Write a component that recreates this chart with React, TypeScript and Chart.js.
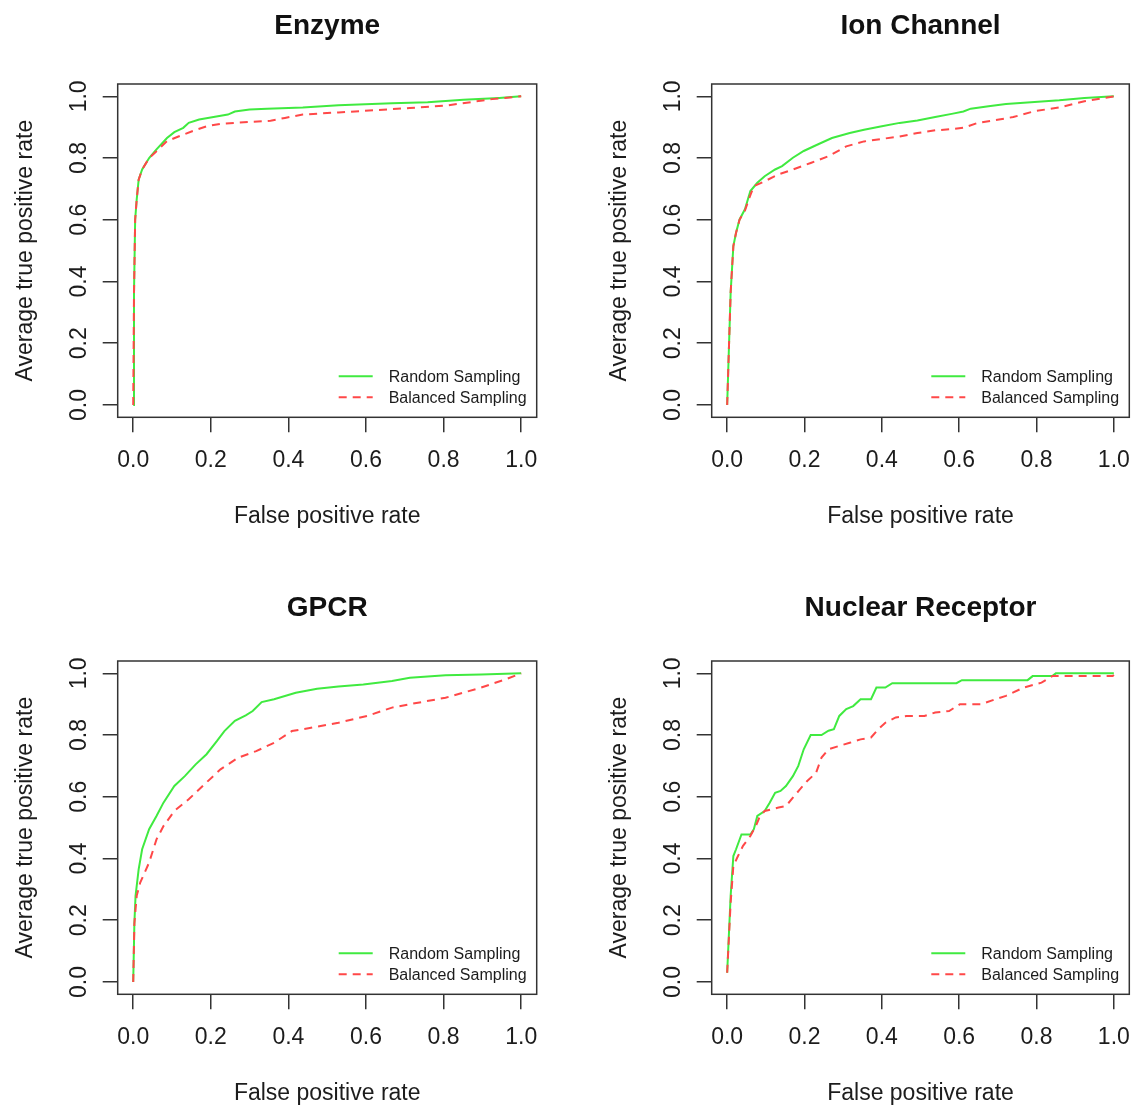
import React, { useEffect, useRef } from "react";
import { Chart, registerables } from "chart.js";

Chart.register(...registerables);

// ---------- Text ----------
const panelTitles = ["Enzyme", "Ion Channel", "GPCR", "Nuclear Receptor"];
const seriesNames = ["Random Sampling", "Balanced Sampling"];
const xAxisTitle = "False positive rate";
const yAxisTitle = "Average true positive rate";
const tickValues = [0, 0.2, 0.4, 0.6, 0.8, 1.0];

// ---------- Data ----------
const enzymeRandomFpr = [0, 0.002, 0.005, 0.009, 0.014, 0.023, 0.041, 0.06, 0.087, 0.106, 0.129, 0.143, 0.17, 0.207, 0.244, 0.262, 0.3, 0.345, 0.437, 0.529, 0.667, 0.759, 0.851, 0.943, 1];
const enzymeRandomTpr = [0, 0.36, 0.6, 0.666, 0.73, 0.763, 0.8, 0.828, 0.865, 0.884, 0.898, 0.914, 0.925, 0.933, 0.941, 0.951, 0.957, 0.96, 0.964, 0.971, 0.978, 0.981, 0.989, 0.995, 1];
const enzymeBalancedFpr = [0, 0.002, 0.005, 0.009, 0.014, 0.023, 0.041, 0.06, 0.087, 0.115, 0.152, 0.189, 0.225, 0.3, 0.354, 0.391, 0.437, 0.529, 0.621, 0.713, 0.805, 0.87, 0.925, 1];
const enzymeBalancedTpr = [0, 0.36, 0.6, 0.666, 0.73, 0.763, 0.8, 0.822, 0.855, 0.869, 0.887, 0.903, 0.911, 0.917, 0.921, 0.93, 0.941, 0.948, 0.955, 0.962, 0.97, 0.981, 0.991, 1];

const ionRandomFpr = [0, 0.005, 0.009, 0.016, 0.023, 0.032, 0.046, 0.06, 0.078, 0.097, 0.124, 0.142, 0.17, 0.198, 0.234, 0.271, 0.317, 0.354, 0.4, 0.446, 0.492, 0.538, 0.584, 0.611, 0.63, 0.676, 0.721, 0.795, 0.859, 0.924, 1];
const ionRandomTpr = [0, 0.203, 0.364, 0.515, 0.558, 0.601, 0.634, 0.693, 0.72, 0.741, 0.763, 0.774, 0.801, 0.823, 0.844, 0.865, 0.881, 0.892, 0.903, 0.914, 0.922, 0.933, 0.944, 0.951, 0.96, 0.968, 0.975, 0.982, 0.987, 0.995, 1];
const ionBalancedFpr = [0, 0.005, 0.009, 0.016, 0.023, 0.032, 0.046, 0.06, 0.069, 0.097, 0.133, 0.17, 0.216, 0.262, 0.308, 0.354, 0.4, 0.446, 0.492, 0.538, 0.584, 0.611, 0.648, 0.703, 0.74, 0.795, 0.859, 0.924, 1];
const ionBalancedTpr = [0, 0.203, 0.364, 0.515, 0.558, 0.6, 0.63, 0.68, 0.709, 0.725, 0.747, 0.763, 0.784, 0.806, 0.838, 0.854, 0.862, 0.87, 0.881, 0.89, 0.894, 0.898, 0.914, 0.925, 0.933, 0.952, 0.964, 0.984, 1];

const gpcrRandomFpr = [0, 0.003, 0.006, 0.014, 0.023, 0.041, 0.06, 0.078, 0.106, 0.133, 0.161, 0.189, 0.216, 0.235, 0.262, 0.29, 0.308, 0.331, 0.363, 0.419, 0.474, 0.529, 0.593, 0.667, 0.713, 0.805, 0.897, 1];
const gpcrRandomTpr = [0, 0.19, 0.279, 0.365, 0.43, 0.495, 0.538, 0.581, 0.635, 0.667, 0.705, 0.738, 0.781, 0.813, 0.846, 0.864, 0.878, 0.907, 0.916, 0.937, 0.95, 0.957, 0.964, 0.975, 0.986, 0.994, 0.996, 1];
const gpcrBalancedFpr = [0, 0.003, 0.009, 0.018, 0.041, 0.06, 0.078, 0.106, 0.143, 0.179, 0.225, 0.271, 0.317, 0.363, 0.409, 0.455, 0.529, 0.603, 0.667, 0.713, 0.805, 0.897, 0.961, 1];
const gpcrBalancedTpr = [0, 0.19, 0.279, 0.322, 0.387, 0.462, 0.505, 0.554, 0.592, 0.635, 0.689, 0.727, 0.748, 0.775, 0.813, 0.823, 0.84, 0.862, 0.889, 0.9, 0.921, 0.954, 0.981, 1];

const nuclearRandomFpr = [0, 0.009, 0.016, 0.023, 0.037, 0.06, 0.069, 0.078, 0.097, 0.11, 0.124, 0.138, 0.152, 0.17, 0.184, 0.198, 0.216, 0.244, 0.262, 0.276, 0.29, 0.308, 0.326, 0.345, 0.372, 0.386, 0.409, 0.427, 0.446, 0.593, 0.607, 0.777, 0.79, 0.841, 0.85, 1];
const nuclearRandomTpr = [0.03, 0.279, 0.408, 0.43, 0.478, 0.478, 0.495, 0.538, 0.554, 0.581, 0.613, 0.619, 0.635, 0.667, 0.7, 0.754, 0.8, 0.8, 0.814, 0.819, 0.862, 0.884, 0.894, 0.916, 0.916, 0.954, 0.954, 0.968, 0.968, 0.968, 0.978, 0.978, 0.991, 0.991, 1, 1];
const nuclearBalancedFpr = [0, 0.009, 0.016, 0.028, 0.041, 0.06, 0.074, 0.083, 0.097, 0.115, 0.133, 0.152, 0.17, 0.188, 0.207, 0.23, 0.244, 0.262, 0.29, 0.317, 0.345, 0.372, 0.391, 0.409, 0.436, 0.464, 0.51, 0.538, 0.574, 0.602, 0.657, 0.694, 0.721, 0.767, 0.813, 0.841, 0.997, 1];
const nuclearBalancedTpr = [0.03, 0.257, 0.376, 0.408, 0.441, 0.473, 0.505, 0.532, 0.554, 0.559, 0.565, 0.57, 0.597, 0.624, 0.651, 0.678, 0.727, 0.754, 0.765, 0.775, 0.786, 0.792, 0.819, 0.84, 0.857, 0.862, 0.862, 0.873, 0.878, 0.9, 0.9, 0.916, 0.927, 0.954, 0.97, 0.991, 0.991, 0.995];

// ---------- Layout & style ----------
const PAGE_W = 1136;
const PAGE_H = 1106;
const CANVAS_W = 568;
const CANVAS_H = 553;
const GREEN = "rgb(64, 234, 64)";
const RED = "rgb(255, 72, 72)";
const AXIS = "#333333";
const TEXT = "#1c1c1c";
const FONT = "'Liberation Sans', Arial, Helvetica, sans-serif";

type Box = { l: number; r: number; t: number; b: number };
const panelBoxes: Box[] = [
  { l: 117.7, r: 536.7, t: 84, b: 417.3 },
  { l: 711.7, r: 1129.3, t: 84, b: 417.3 },
  { l: 117.7, r: 536.7, t: 661, b: 994.3 },
  { l: 711.7, r: 1129.3, t: 661, b: 994.3 },
];
const titleBaselineOffset = [50, 50, 45, 45];

const panelSeries = [
  { random: [enzymeRandomFpr, enzymeRandomTpr], balanced: [enzymeBalancedFpr, enzymeBalancedTpr] },
  { random: [ionRandomFpr, ionRandomTpr], balanced: [ionBalancedFpr, ionBalancedTpr] },
  { random: [gpcrRandomFpr, gpcrRandomTpr], balanced: [gpcrBalancedFpr, gpcrBalancedTpr] },
  { random: [nuclearRandomFpr, nuclearRandomTpr], balanced: [nuclearBalancedFpr, nuclearBalancedTpr] },
];

const toPoints = (xs: number[], ys: number[]) => xs.map((x, i) => ({ x, y: ys[i] }));

function RocPanel({ index }: { index: number }) {
  const ref = useRef<HTMLCanvasElement>(null);
  const col = index % 2;
  const row = Math.floor(index / 2);
  const left = col * CANVAS_W;
  const top = row * CANVAS_H;

  useEffect(() => {
    const canvas = ref.current;
    if (!canvas) return;
    const box = panelBoxes[index];
    const boxL = box.l - left;
    const boxR = box.r - left;
    const boxT = box.t - top;
    const boxB = box.b - top;
    const pad = 4;
    const title = panelTitles[index];
    const s = panelSeries[index];

    const framePlugin = {
      id: "rFrame",
      afterDraw(chart: any) {
        const ctx = chart.ctx as CanvasRenderingContext2D;
        const { left: L, right: R, top: T, bottom: B } = chart.chartArea;
        const xs = chart.scales.x;
        const ys = chart.scales.y;
        ctx.save();
        // plot box
        ctx.strokeStyle = AXIS;
        ctx.lineWidth = 1.5;
        ctx.strokeRect(L, T, R - L, B - T);

        // tick labels
        ctx.fillStyle = TEXT;
        ctx.font = `23px ${FONT}`;
        ctx.textAlign = "center";
        ctx.textBaseline = "alphabetic";
        tickValues.forEach((v) => {
          ctx.fillText(v.toFixed(1), xs.getPixelForValue(v), B + 50);
        });
        tickValues.forEach((v) => {
          ctx.save();
          ctx.translate(L - 32, ys.getPixelForValue(v));
          ctx.rotate(-Math.PI / 2);
          ctx.fillText(v.toFixed(1), 0, 0);
          ctx.restore();
        });

        // axis titles
        ctx.fillText(xAxisTitle, (L + R) / 2, B + 106);
        ctx.save();
        ctx.translate(L - 86, (T + B) / 2);
        ctx.rotate(-Math.PI / 2);
        ctx.fillText(yAxisTitle, 0, 0);
        ctx.restore();

        // main title
        ctx.font = `bold 28px ${FONT}`;
        ctx.fillStyle = "#111";
        ctx.fillText(title, (L + R) / 2, T - titleBaselineOffset[index]);

        // legend (bottom right, no box)
        const ds = chart.data.datasets;
        const legendOrder = [1, 0]; // Random first, Balanced second
        ctx.font = `16px ${FONT}`;
        ctx.textAlign = "left";
        legendOrder.forEach((di, k) => {
          const d = ds[di];
          const ly = B - 41 + k * 21;
          ctx.save();
          ctx.strokeStyle = d.borderColor;
          ctx.lineWidth = 2;
          ctx.setLineDash(d.borderDash || []);
          ctx.beginPath();
          ctx.moveTo(R - 198, ly);
          ctx.lineTo(R - 164, ly);
          ctx.stroke();
          ctx.restore();
          ctx.fillStyle = TEXT;
          ctx.fillText(d.label, R - 148, ly + 5.5);
        });
        ctx.restore();
      },
    };

    const chart = new Chart(canvas, {
      type: "line",
      data: {
        datasets: [
          {
            label: seriesNames[1],
            data: toPoints(s.balanced[0], s.balanced[1]),
            borderColor: RED,
            borderWidth: 2,
            borderDash: [8, 6],
            pointRadius: 0,
            tension: 0,
            fill: false,
          },
          {
            label: seriesNames[0],
            data: toPoints(s.random[0], s.random[1]),
            borderColor: GREEN,
            borderWidth: 2,
            pointRadius: 0,
            tension: 0,
            fill: false,
          },
        ],
      },
      options: {
        animation: false,
        responsive: false,
        maintainAspectRatio: false,
        devicePixelRatio: 1,
        layout: {
          padding: { left: pad, top: boxT, right: CANVAS_W - boxR, bottom: pad },
        },
        plugins: {
          legend: { display: false },
          tooltip: { enabled: false },
          title: { display: false },
        },
        scales: {
          x: {
            type: "linear",
            min: -0.04,
            max: 1.04,
            afterBuildTicks: (sc: any) => {
              sc.ticks = tickValues.map((v) => ({ value: v }));
            },
            afterFit: (sc: any) => {
              sc.height = CANVAS_H - boxB - pad;
            },
            ticks: { display: false },
            grid: { drawOnChartArea: false, drawTicks: true, tickLength: 15, color: AXIS, lineWidth: 1.5 },
            border: { display: false },
          },
          y: {
            type: "linear",
            min: -0.04,
            max: 1.04,
            afterBuildTicks: (sc: any) => {
              sc.ticks = tickValues.map((v) => ({ value: v }));
            },
            afterFit: (sc: any) => {
              sc.width = boxL - pad;
            },
            ticks: { display: false },
            grid: { drawOnChartArea: false, drawTicks: true, tickLength: 15, color: AXIS, lineWidth: 1.5 },
            border: { display: false },
          },
        },
      } as any,
      plugins: [framePlugin],
    });
    return () => chart.destroy();
  }, [index]);

  return (
    <canvas
      ref={ref}
      width={CANVAS_W}
      height={CANVAS_H}
      style={{ position: "absolute", left, top, width: CANVAS_W, height: CANVAS_H, display: "block" }}
    />
  );
}

export default function App() {
  return (
    <div
      style={{
        position: "fixed",
        left: 0,
        top: 0,
        width: PAGE_W,
        height: PAGE_H,
        background: "#ffffff",
        overflow: "hidden",
      }}
    >
      {[0, 1, 2, 3].map((i) => (
        <RocPanel key={i} index={i} />
      ))}
    </div>
  );
}
